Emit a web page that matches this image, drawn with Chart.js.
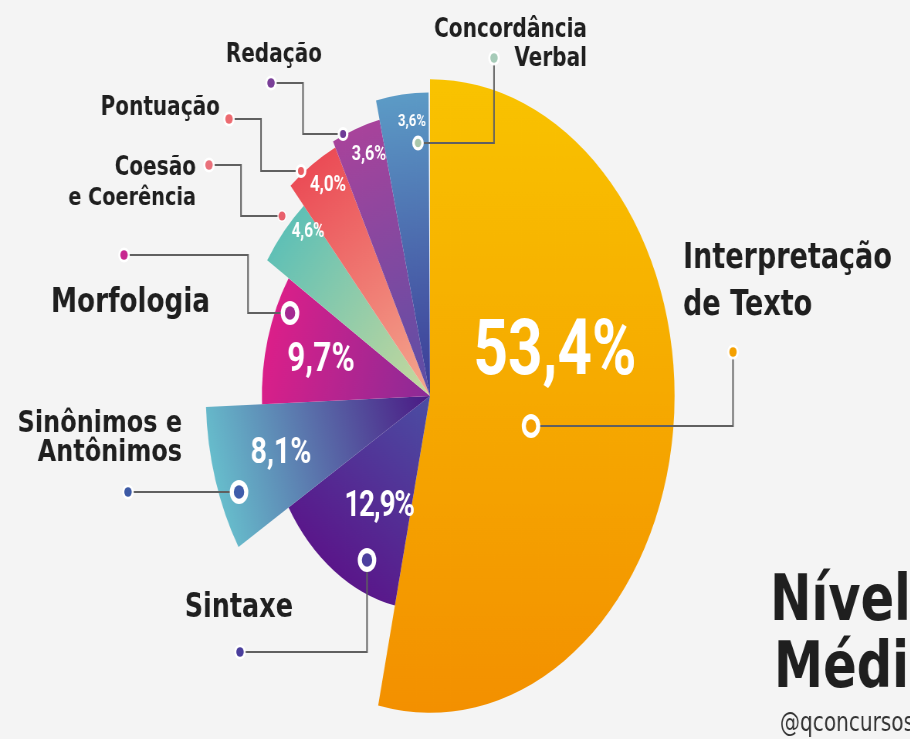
<!DOCTYPE html>
<html lang="pt-BR">
<head>
<meta charset="utf-8">
<title>Português – Nível Médio</title>
<script src="https://cdn.jsdelivr.net/npm/chart.js@4.4.1/dist/chart.umd.min.js"></script>
<style>
  html, body { margin: 0; padding: 0; background: #f4f4f4; overflow: hidden; width: 910px; height: 739px; }
  /* the original artwork is squeezed horizontally, so the whole chart is drawn wide and scaled down */
  #wrap { position: absolute; left: 0; top: 0; width: 1179px; height: 739px; transform: scaleX(0.772); transform-origin: 0 0; }
</style>
</head>
<body>
<div id="wrap"><canvas id="chart"></canvas></div>
<script>
const subjects = ['Interpretação de Texto', 'Sintaxe', 'Sinônimos e Antônimos', 'Morfologia',
  'Coesão e Coerência', 'Pontuação', 'Redação', 'Concordância Verbal'];
const shares = [53.4, 12.9, 8.1, 9.7, 4.6, 4.0, 3.6, 3.6];   // % of questions -> slice angle
const depths = [96, 65, 88, 66, 76, 84, 86, 92];             // slice length, 0-100
const shareLabels = shares.map(v => v.toFixed(1).replace('.', ',') + '%');

const outerColors = ['#f9c300', '#5a168a', '#67bdcc', '#db1f89', '#5fc0b6', '#eb4c56', '#a8439b', '#5c9bc6'];
const innerColors = ['#f39000', '#4b4ea3', '#4a1884', '#8b2b97', '#c9d99c', '#f4a88f', '#5a4fa6', '#3c3a96'];

const S = 0.772;            // horizontal squeeze of the artwork
const X = x => x / S;       // picture x -> canvas x

// leader lines, from the marker on the slice to the dot near the label (picture coords)
const callouts = [
  { path: [[531, 426], [733, 426], [733, 352]], ring: 12, fill: '#f5a000', dot: '#f4a000' },
  { path: [[367, 560], [367, 652], [240, 652]], ring: 12, fill: '#4c3f9e', dot: '#4a3e9c' },
  { path: [[239, 492], [128, 492]], ring: 12, fill: '#3f5cab', dot: '#3d5aa5' },
  { path: [[290, 313], [248, 313], [248, 255], [124, 255]], ring: 12, fill: '#a52a92', dot: '#c7268f' },
  { path: [[282, 216], [241, 216], [241, 165], [209, 165]], ring: 0, fill: '#e8606c', dot: '#e9707a' },
  { path: [[301, 171], [261, 171], [261, 119], [229, 119]], ring: 7, fill: '#ea5d63', dot: '#ec6a70' },
  { path: [[343, 134], [303, 134], [303, 83], [271, 83]], ring: 7, fill: '#6e3a96', dot: '#7a3f98' },
  { path: [[418, 143], [494, 143], [494, 58]], ring: 7.5, fill: '#a9c7ab', dot: '#a6cbb8' }
];

// percentage labels inside the slices
const percentPos = [[555, 354], [379, 507], [281, 454], [321, 361], [308, 232], [328, 185], [369, 155], [412, 122]];
const percentSize = [78, 36, 37, 41, 20, 22, 21, 17];

// category labels: [text, x, baseline, align, size]
const nameLabels = [
  ['Interpretação', 683, 268, 'left', 35],
  ['de Texto', 683, 315, 'left', 35],
  ['Sintaxe', 293, 617, 'right', 33],
  ['Sinônimos e', 182, 432, 'right', 31],
  ['Antônimos', 182, 461, 'right', 31],
  ['Morfologia', 210, 312, 'right', 34],
  ['Coesão', 196, 175, 'right', 26],
  ['e Coerência', 196, 205, 'right', 25],
  ['Pontuação', 220, 115, 'right', 26],
  ['Redação', 322, 62, 'right', 26],
  ['Concordância', 587, 37, 'right', 26],
  ['Verbal', 587, 66, 'right', 26]
];

function sliceFill(ctx) {
  const i = ctx.dataIndex;
  const r = ctx.chart.scales.r;
  if (ctx.type !== 'data' || !r || !r.drawingArea) return outerColors[i || 0];
  const cx = r.xCenter, cy = r.yCenter;
  const rad = r.getDistanceFromCenterForValue(depths[i]);
  let g;
  if (i === 0) {
    g = ctx.chart.ctx.createLinearGradient(cx, cy - rad, cx, cy + rad);
  } else {
    let start = 0;
    for (let k = 0; k < i; k++) start += shares[k] * 3.6;
    const mid = (start + shares[i] * 1.8) * Math.PI / 180;
    g = ctx.chart.ctx.createLinearGradient(cx + Math.sin(mid) * rad, cy - Math.cos(mid) * rad, cx, cy);
  }
  g.addColorStop(0, outerColors[i]);
  g.addColorStop(1, innerColors[i]);
  return g;
}

function dot(c, x, y, radius, color) {
  c.beginPath();
  c.arc(x, y, radius, 0, Math.PI * 2);
  c.fillStyle = color;
  c.fill();
}

const calloutPlugin = {
  id: 'callouts',
  afterDraw(chart) {
    const c = chart.ctx;
    c.save();

    c.strokeStyle = '#606060';
    c.lineWidth = 2;
    callouts.forEach(co => {
      c.beginPath();
      co.path.forEach(([x, y], k) => k ? c.lineTo(X(x), y) : c.moveTo(X(x), y));
      c.stroke();
    });

    callouts.forEach(co => {
      const [ex, ey] = co.path[co.path.length - 1];
      dot(c, X(ex), ey, 7.5, 'rgba(255,255,255,0.95)');
      dot(c, X(ex), ey, 4.8, co.dot);
      const [sx, sy] = co.path[0];
      if (co.ring) {
        dot(c, X(sx), sy, co.ring, '#fff');
        dot(c, X(sx), sy, co.ring * 0.56, co.fill);
      } else {
        dot(c, X(sx), sy, 6, 'rgba(255,255,255,0.9)');
        dot(c, X(sx), sy, 4.5, co.fill);
      }
    });

    // percentages
    c.fillStyle = '#fff';
    c.textAlign = 'center';
    c.textBaseline = 'middle';
    shareLabels.forEach((t, i) => {
      c.font = `bold ${percentSize[i]}px Roboto, "Liberation Sans", sans-serif`;
      c.letterSpacing = i === 1 ? '-1.5px' : '0px';
      c.fillText(t, X(percentPos[i][0]), percentPos[i][1]);
    });

    // category names
    c.letterSpacing = '0px';
    c.fillStyle = '#1f1f1f';
    c.textBaseline = 'alphabetic';
    nameLabels.forEach(([t, x, y, align, size]) => {
      c.font = `bold ${size}px "DejaVu Sans", sans-serif`;
      c.textAlign = align;
      c.fillText(t, X(x), y);
    });

    // title block (cut by the right edge in the original)
    c.textAlign = 'left';
    c.font = 'bold 64px "DejaVu Sans", sans-serif';
    c.fillText('Nível', X(770), 620);
    c.fillText('Médio', X(774), 687);
    c.fillStyle = '#333';
    c.font = '26px "DejaVu Sans", sans-serif';
    c.fillText('@qconcursos', X(780), 731);

    c.restore();
  }
};

new Chart(document.getElementById('chart'), {
  type: 'polarArea',
  data: {
    labels: subjects,
    datasets: [{
      data: depths,
      angle: ctx => shares[ctx.dataIndex] * 3.6,
      backgroundColor: sliceFill,
      borderWidth: 0
    }]
  },
  options: {
    responsive: true,
    maintainAspectRatio: false,
    animation: false,
    layout: { padding: { left: 227, top: 66, right: 292, bottom: 13 } },
    scales: {
      r: { display: false, min: 0, max: 100, startAngle: 0 }
    },
    plugins: {
      legend: { display: false },
      tooltip: { enabled: false }
    }
  },
  plugins: [calloutPlugin]
});
</script>
</body>
</html>
